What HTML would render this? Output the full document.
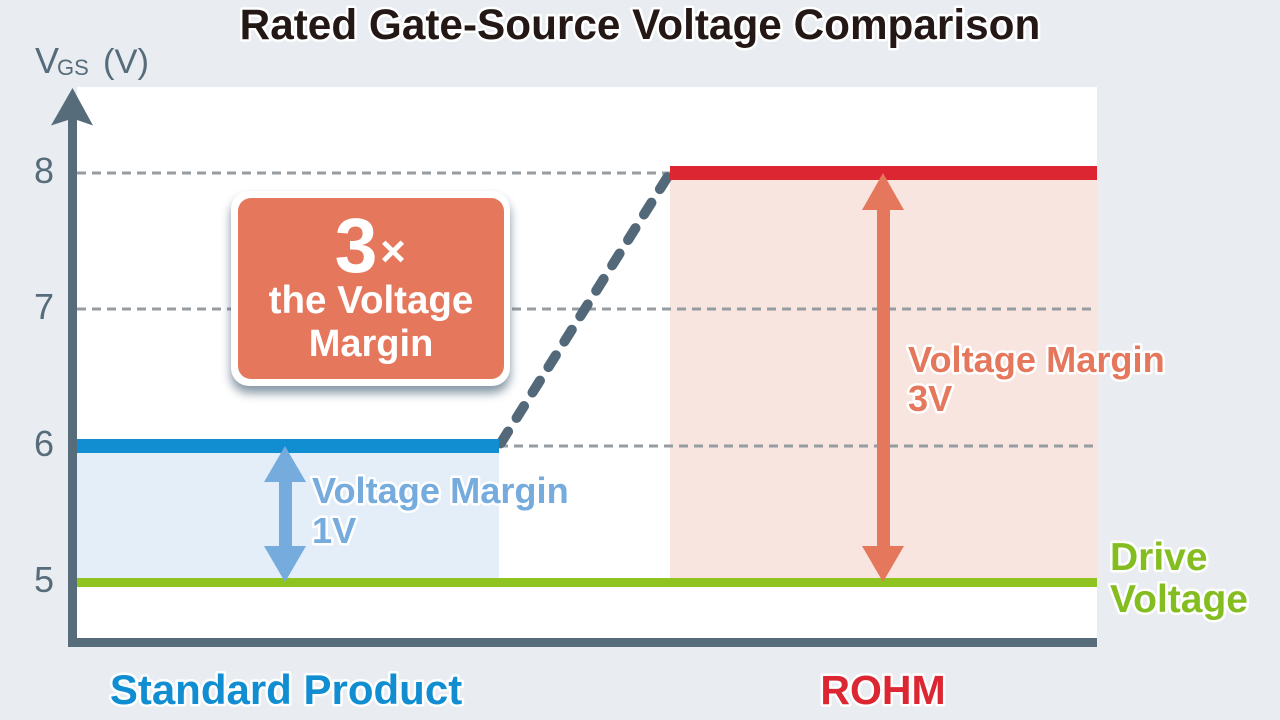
<!DOCTYPE html>
<html><head><meta charset="utf-8"><style>
html,body{margin:0;padding:0;width:1280px;height:720px;overflow:hidden;background:#e9edf1}
svg{display:block}
text{font-family:"Liberation Sans",sans-serif}
.h{paint-order:stroke fill;stroke:#fff;stroke-width:5px;stroke-linejoin:round;font-weight:bold}
</style></head><body>
<svg width="1280" height="720" viewBox="0 0 1280 720" xmlns="http://www.w3.org/2000/svg">
<defs>
<filter id="s" x="-20%" y="-20%" width="140%" height="140%"><feGaussianBlur stdDeviation="5"/></filter>
</defs>
<rect width="1280" height="720" fill="#e9edf1"/>
<rect x="77" y="87" width="1020" height="551" fill="#fff"/>
<rect x="77" y="453" width="422" height="125" fill="#e4eef8"/>
<rect x="670" y="180" width="427" height="398" fill="#f9e5df"/>
<g stroke="#959ca2" stroke-width="3" stroke-dasharray="9 6" fill="none">
<path d="M77 173H670"/>
<path d="M77 309H1097"/>
<path d="M499 446H1097"/>
</g>
<path d="M670 173L499 446" stroke="#53697a" stroke-width="10" stroke-linecap="round" stroke-dasharray="14 16" stroke-dashoffset="-5" fill="none"/>
<rect x="77" y="439" width="422" height="14" fill="#118ed2"/>
<rect x="670" y="166" width="427" height="14" fill="#dc2631"/>
<rect x="77" y="578" width="1020" height="9" fill="#8fc31f"/>
<path d="M72.500 88L93 125.500L77 120V638H1097V647H68V120L51 125.500Z" fill="#566c7a"/>
<path d="M285 446L306 482H292V546H306L285 582L264 546H279V482H264Z" fill="#75abdd"/>
<path d="M883 173L904 210H890V546H904L883 582L862 546H877V210H862Z" fill="#e5775c"/>
<rect x="231" y="198" width="279" height="195" rx="18" fill="#50677a" opacity=".7" filter="url(#s)"/>
<rect x="231" y="191" width="279" height="195" rx="18" fill="#fff"/>
<rect x="238" y="198" width="266" height="181" rx="13" fill="#e5775c"/>
<g fill="#fff" font-weight="bold" text-anchor="middle">
<text x="356" y="272" font-size="77">3</text>
<text x="393" y="266" font-size="44">×</text>
<text x="371" y="313" font-size="38.500">the Voltage</text>
<text x="371" y="356" font-size="38">Margin</text>
</g>
<text x="640" y="39" class="h" font-size="42.300" text-anchor="middle" fill="#231815">Rated Gate-Source Voltage Comparison</text>
<g fill="#566c7a" font-size="36">
<text x="35" y="73">V</text><text x="57" y="75" font-size="22">GS</text><text x="103" y="73" font-size="34.500">(V)</text>
<text x="34" y="183">8</text><text x="34" y="319">7</text><text x="34" y="456">6</text><text x="34" y="592">5</text>
</g>
<g font-size="36.200">
<text class="h" x="312" y="503" fill="#75abdd">Voltage Margin</text>
<text class="h" x="312" y="543" fill="#75abdd">1V</text>
<text class="h" x="908" y="372" fill="#e5775c">Voltage Margin</text>
<text class="h" x="908" y="411" fill="#e5775c">3V</text>
</g>
<g font-size="39">
<text class="h" x="1110" y="570" fill="#84bd1f">Drive</text>
<text class="h" x="1110" y="612" fill="#84bd1f">Voltage</text>
</g>
<text class="h" x="286" y="704" font-size="42" text-anchor="middle" fill="#118ed2">Standard Product</text>
<text class="h" x="883" y="704" font-size="41" text-anchor="middle" fill="#dc2631">ROHM</text>
</svg>
</body></html>
